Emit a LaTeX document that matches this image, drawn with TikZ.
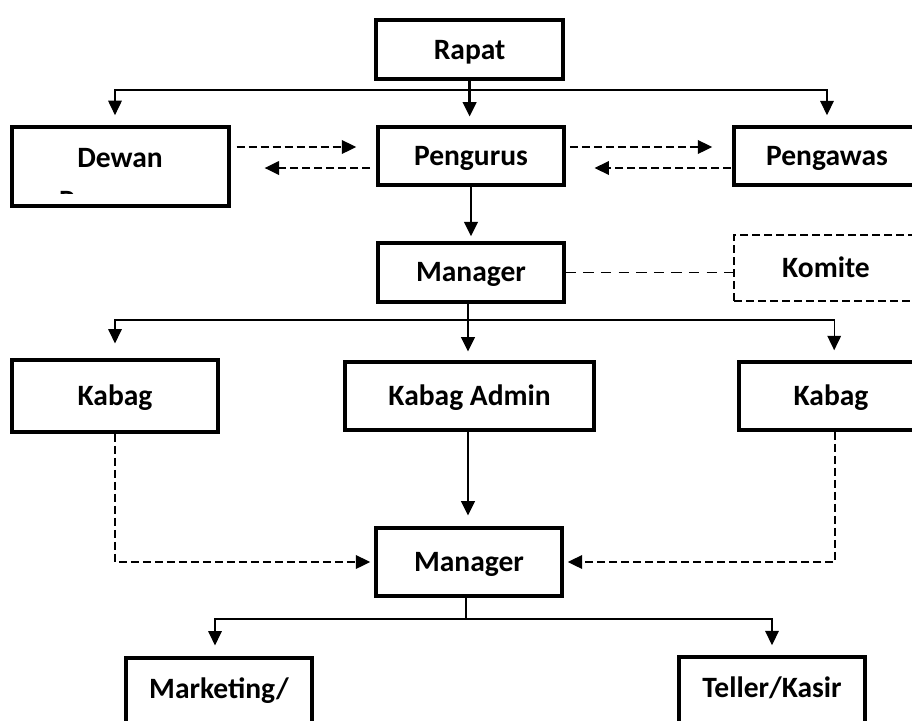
\documentclass[tikz,border=0pt]{standalone}
\usepackage{fontspec}
\setmainfont{Carlito}
\usetikzlibrary{arrows.meta}

\begin{document}
\begin{tikzpicture}[x=1cm,y=1cm,
  every node/.style={font=\bfseries\fontsize{21}{25}\selectfont},
  unit/.style={draw,line width=2.5pt,inner sep=0pt,text height=13.5pt,text depth=0pt},
  unitdash/.style={unit,line width=1.5pt,dash pattern=on 0.2cm off 0.1cm},
  txt/.style={inner sep=0pt,text height=13.5pt,text depth=0pt},
  thinline/.style={line width=0.9pt},
  tip/.style={-{Triangle[length=0.36cm,width=0.34cm]}},
  thinarrow/.style={thinline,tip,shorten >=0.25cm},
  thickarrow/.style={line width=1.7pt,tip,shorten >=0.22cm},
  dashline/.style={line width=1.2pt,dash pattern=on 0.2cm off 0.1cm},
  dasharrow/.style={dashline,tip}]
\useasboundingbox (0,0) rectangle (22.8,-18);
\clip (0,0) rectangle (22.8,-18);
\fill[white] (0,0) rectangle (22.8,-18);

\node[unit,minimum width=4.675cm,minimum height=1.475cm] (rapat) at (11.74,-1.24) {Rapat};
\node[unit,minimum width=5.425cm,minimum height=1.975cm] (dewan) at (3.01,-4.16) {};
\node[txt] (dewantop) at (3.0,-3.95) {Dewan};
\begin{scope}
\clip (0.4,-3.3) rectangle (5.6,-4.83);
\node[txt] (dewanbottom) at (3.0,-5.03) {Pengawas};
\end{scope}
\node[unit,minimum width=4.65cm,minimum height=1.45cm] (pengurus) at (11.775,-3.9) {Pengurus};
\node[unit,minimum width=4.65cm,minimum height=1.45cm] (pengawas) at (20.675,-3.9) {Pengawas};
\node[unit,minimum width=4.65cm,minimum height=1.475cm] (manager) at (11.775,-6.81) {Manager};
\node[unitdash,minimum width=4.6cm,minimum height=1.65cm] (komite) at (20.65,-6.7) {Komite};
\node[unit,minimum width=5.15cm,minimum height=1.8cm] (kabagkiri) at (2.875,-9.9) {Kabag};
\node[unit,minimum width=6.225cm,minimum height=1.7cm] (kabagadmin) at (11.74,-9.9) {Kabag Admin};
\node[unit,minimum width=4.6cm,minimum height=1.7cm] (kabagkanan) at (20.775,-9.9) {Kabag};
\node[unit,minimum width=4.65cm,minimum height=1.7cm] (managerops) at (11.725,-14.05) {Manager};
\node[unit,minimum width=4.65cm,minimum height=2.8cm] (marketing) at (5.475,-17.85) {};
\node[txt] (marketingtxt) at (5.475,-17.22) {Marketing/};
\node[unit,minimum width=4.65cm,minimum height=2.8cm] (teller) at (19.3,-17.825) {};
\node[txt] (tellertxt) at (19.3,-17.2) {Teller/Kasir};

\coordinate (barA) at (11.74,-2.25);
\coordinate (barB) at (11.7,-8.0);
\coordinate (barC) at (11.65,-15.475);
\coordinate (rowA) at (0,-3.675);
\coordinate (rowB) at (0,-4.2);

\draw[thickarrow] ([yshift=0.05cm]rapat.south) -- (rapat.south |- pengurus.north);
\draw[thinarrow] (barA) -| (dewan.north -| kabagkiri.north);
\draw[thinarrow] (barA) -| (pengawas.north);

\draw[dasharrow,shorten <=0.15cm,shorten >=0.5cm] (dewan.east |- rowA) -- (pengurus.west |- rowA);
\draw[dasharrow,shorten <=0.15cm,shorten >=0.85cm] (pengurus.west |- rowB) -- (dewan.east |- rowB);
\draw[dasharrow,shorten <=0.1cm,shorten >=0.5cm] (pengurus.east |- rowA) -- (pengawas.west |- rowA);
\draw[dasharrow,shorten <=0.03cm,shorten >=0.72cm] (pengawas.west |- rowB) -- (pengurus.east |- rowB);

\draw[thickarrow,shorten >=0.12cm] (pengurus.south) -- (manager.north);
\draw[line width=1.2pt,dash pattern=on 0.26cm off 0.18cm] (manager.east) -- (manager.east -| komite.west);

\draw[thickarrow] (barB |- manager.south) -- (barB |- kabagadmin.north);
\draw[thinarrow,shorten >=0.37cm] (barB) -| (kabagkiri.north);
\draw[thinarrow] (barB) -| ([xshift=0.08cm]kabagkanan.north);

\draw[thickarrow,shorten >=0.27cm] (barB |- kabagadmin.south) -- (barB |- managerops.north);
\draw[dasharrow,shorten >=0.1cm] (kabagkiri.south) |- (managerops.west);
\draw[dasharrow,shorten >=0.1cm] ([xshift=0.1cm]kabagkanan.south) |- (managerops.east);

\draw[thinline] (barC |- managerops.south) -- (barC);
\draw[thinarrow,shorten >=0.27cm] (barC) -| ([xshift=-0.1cm]marketing.north);
\draw[thinarrow,shorten >=0.25cm] (barC) -| (teller.north);
\end{tikzpicture}
\end{document}
